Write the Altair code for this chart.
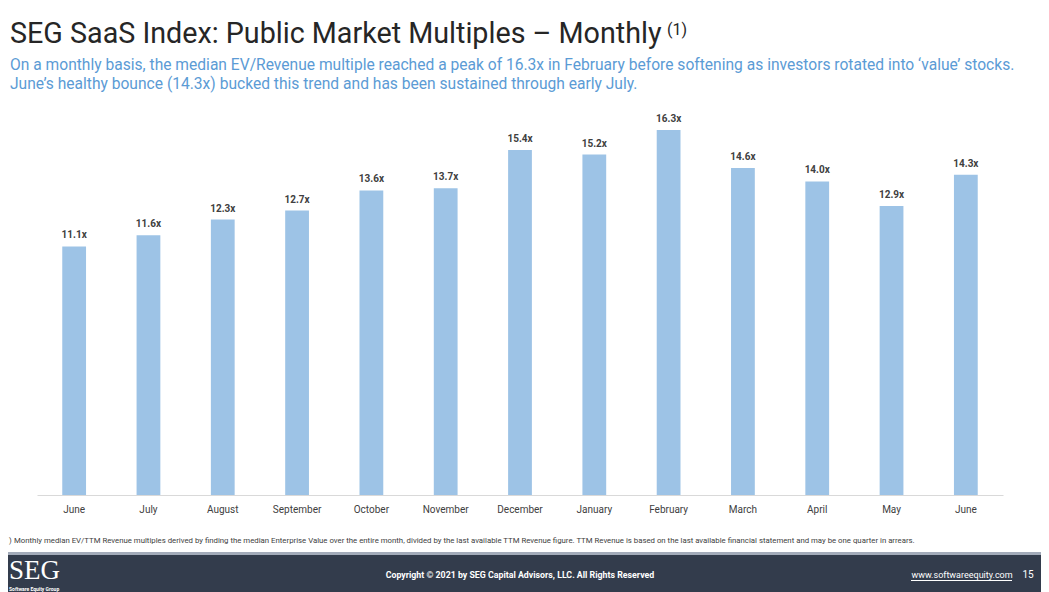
import altair as alt
import pandas as pd

months = ["June", "July", "August", "September", "October", "November", "December",
          "January", "February", "March", "April", "May", "June"]
multiples = [11.1, 11.6, 12.3, 12.7, 13.6, 13.7, 15.4, 15.2, 16.3, 14.6, 14.0, 12.9, 14.3]

title_text = "SEG SaaS Index: Public Market Multiples – Monthly"
subtitle_lines = [
    "On a monthly basis, the median EV/Revenue multiple reached a peak of 16.3x in February before softening as investors rotated into ‘value’ stocks.",
    "June’s healthy bounce (14.3x) bucked this trend and has been sustained through early July.",
]
footnote_text = "Monthly median EV/TTM Revenue multiples derived by finding the median Enterprise Value over the entire month, divided by the last available TTM Revenue figure. TTM Revenue is based on the last available financial statement and may be one quarter in arrears."
copyright_text = "Copyright © 2021 by SEG Capital Advisors, LLC. All Rights Reserved"
url_text = "www.softwareequity.com"
page_no = "15"

df = pd.DataFrame({"idx": list(range(len(months))), "value": multiples})
label_expr = "[" + ",".join("'" + m + "'" for m in months) + "][datum.value]"

FONT = "Roboto"
W, H = 966, 385

base = alt.Chart(df)
x_enc = alt.X("idx:O", title=None,
              scale=alt.Scale(paddingInner=0.68, paddingOuter=0.34),
              axis=alt.Axis(labelExpr=label_expr, labelAngle=0, ticks=False, tickSize=0,
                            labelPadding=9, domainColor="#d9d9d9", domainWidth=1,
                            labelColor="#404040", labelFont=FONT, labelFontSize=10,
                            grid=False))
y_enc = alt.Y("value:Q", title=None, axis=None, scale=alt.Scale(domain=[0, 17.19], nice=False))

bars = base.mark_bar(color="#9dc3e6").encode(x=x_enc, y=y_enc)
labels = base.transform_calculate(lab="format(datum.value, '.1f') + 'x'").mark_text(
    dy=-6, fontWeight="bold", fontSize=10, color="#404040", font=FONT, baseline="bottom"
).encode(x=x_enc, y=y_enc, text="lab:N")


def deco(text, x, y, size, color, weight="normal", align="left", font=FONT, baseline="alphabetic"):
    return alt.Chart(pd.DataFrame({"t": [text]})).mark_text(
        align=align, baseline=baseline, fontSize=size, color=color, fontWeight=weight, font=font
    ).encode(x=alt.value(x), y=alt.value(y), text="t:N")


def box(x1, x2, y1, y2, color):
    return alt.Chart(pd.DataFrame({"a": [0]})).mark_rect(color=color).encode(
        x=alt.value(x1), x2=alt.value(x2), y=alt.value(y1), y2=alt.value(y2))


layers = [
    bars, labels,
    deco(title_text, -27, -67, 28.7, "#262626"),
    deco("(1)", 630, -75, 16, "#262626"),
    deco(subtitle_lines[0], -27, -40, 15.6, "#5b9bd5"),
    deco(subtitle_lines[1], -27, -21, 15.6, "#5b9bd5"),
    deco(")", -28, 433, 7.8, "#404040"),
    deco(footnote_text, -23, 433, 7.8, "#404040"),
    box(-40, 1010, 442, 445, "#a3abb9"),
    box(-40, 1010, 445, 490, "#333c4c"),
    deco("SEG", -28, 469, 27, "#ffffff", font="Liberation Serif"),
    deco("Software Equity Group", -28, 481, 5, "#ffffff", weight="bold"),
    deco(copyright_text, 483, 468, 8.8, "#ffffff", weight="bold", align="center"),
    deco(url_text, 925, 468, 9, "#ffffff", align="center"),
    box(874, 975, 470, 471, "#ffffff"),
    deco(page_no, 991, 468, 10, "#ffffff", align="center"),
]

chart = alt.layer(*layers).properties(
    width=W, height=H,
    autosize=alt.AutoSizeParams(type="none"),
    padding={"left": 29, "top": 102, "right": 38, "bottom": 97},
).configure_view(stroke=None)

chart.save("out.html", embed_options={"renderer": "svg", "actions": False})
